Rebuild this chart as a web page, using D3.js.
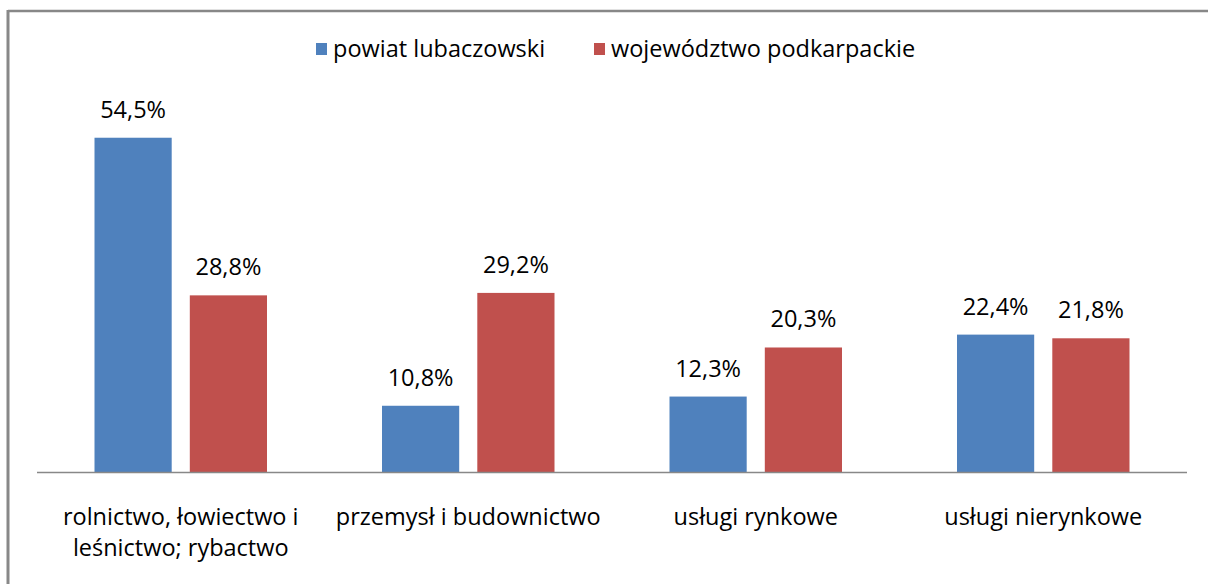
<!DOCTYPE html>
<html>
<head>
<meta charset="utf-8">
<script src="https://cdn.jsdelivr.net/npm/d3@7"></script>
<style>
  body { margin: 0; background: #fff; }
  svg { display: block; font-family: "Open Sans", Lato, sans-serif; }
</style>
</head>
<body>
<svg id="plot" width="1208" height="584"></svg>
<script>
// chart data
var categories = [
  ["rolnictwo, łowiectwo i", "leśnictwo; rybactwo"],
  ["przemysł i budownictwo"],
  ["usługi rynkowe"],
  ["usługi nierynkowe"]
];
var seriesNames = ["powiat lubaczowski", "województwo podkarpackie"];
var powiat = [54.5, 10.8, 12.3, 22.4];
var wojewodztwo = [28.8, 29.2, 20.3, 21.8];
var yMax = 60;

var colors = ["#4f81bd", "#c0504d"];
var fontSize = 23.5;

var svg = d3.select("#plot");

// frame of the chart area (top clipped by the window)
svg.append("line").attr("x1", 8).attr("x2", 1208).attr("y1", 11).attr("y2", 11)
   .attr("stroke", "#888").attr("stroke-width", 2.5);
svg.append("line").attr("x1", 8).attr("x2", 8).attr("y1", 10).attr("y2", 584)
   .attr("stroke", "#888").attr("stroke-width", 3);

// clipped title fragments
svg.append("text").attr("x", 205).attr("y", -6).attr("font-size", 22)
   .attr("font-weight", "bold").text("(");
svg.append("text").attr("x", 738).attr("y", -6).attr("font-size", 22)
   .attr("font-weight", "bold").text(")");

var plotLeft = 37, plotRight = 1187, plotTop = 104, plotBottom = 472;

var x0 = d3.scaleBand()
           .domain(d3.range(categories.length))
           .range([plotLeft, plotRight])
           .paddingInner(0.4)
           .paddingOuter(0.2);
var x1 = d3.scaleBand()
           .domain([0, 1])
           .range([0, x0.bandwidth()])
           .paddingInner(0.19);
var yScale = d3.scaleLinear()
               .domain([0, yMax])
               .range([plotBottom, plotTop]);

var rows = categories.map(function(c, i){
  return [powiat[i], wojewodztwo[i]];
});

var groups = svg.selectAll("g.cat")
  .data(rows)
  .enter()
  .append("g")
  .attr("class", "cat")
  .attr("transform", function(d, i){ return "translate(" + x0(i) + ",0)"; });

groups.selectAll("rect")
  .data(function(d){ return d; })
  .enter()
  .append("rect")
  .attr("x", function(d, j){ return x1(j); })
  .attr("width", x1.bandwidth())
  .attr("y", function(d){ return yScale(d); })
  .attr("height", function(d){ return plotBottom - yScale(d); })
  .attr("fill", function(d, j){ return colors[j]; });

// value labels
groups.selectAll("text.val")
  .data(function(d){ return d; })
  .enter()
  .append("text")
  .attr("class", "val")
  .attr("x", function(d, j){ return x1(j) + x1.bandwidth() / 2; })
  .attr("y", function(d){ return yScale(d) - 20; })
  .attr("text-anchor", "middle")
  .attr("font-size", fontSize)
  .attr("fill", "#000")
  .text(function(d){ return d.toFixed(1).replace(".", ",") + "%"; });

// axis line
svg.append("line")
   .attr("x1", plotLeft).attr("x2", plotRight)
   .attr("y1", plotBottom + 0.5).attr("y2", plotBottom + 0.5)
   .attr("stroke", "#888").attr("stroke-width", 1.5);

// category labels
var catLabels = svg.selectAll("text.cat")
  .data(categories)
  .enter()
  .append("text")
  .attr("class", "cat")
  .attr("text-anchor", "middle")
  .attr("font-size", fontSize)
  .attr("x", function(d, i){ return x0(i) + x0.bandwidth() / 2; })
  .attr("y", 525);
catLabels.selectAll("tspan")
  .data(function(d){ return d; })
  .enter()
  .append("tspan")
  .attr("x", function(){ return this.parentNode.getAttribute("x"); })
  .attr("dy", function(d, k){ return k === 0 ? 0 : 31; })
  .text(function(d){ return d; });

// legend
var legendX = [316, 594];
var legend = svg.selectAll("g.legend")
  .data(seriesNames)
  .enter()
  .append("g")
  .attr("class", "legend")
  .attr("transform", function(d, i){ return "translate(" + legendX[i] + ",43)"; });
legend.append("rect")
  .attr("width", 11).attr("height", 12)
  .attr("fill", function(d, i){ return colors[i]; });
legend.append("text")
  .attr("x", 17).attr("y", 14)
  .attr("font-size", fontSize)
  .text(function(d){ return d; });
</script>
</body>
</html>
